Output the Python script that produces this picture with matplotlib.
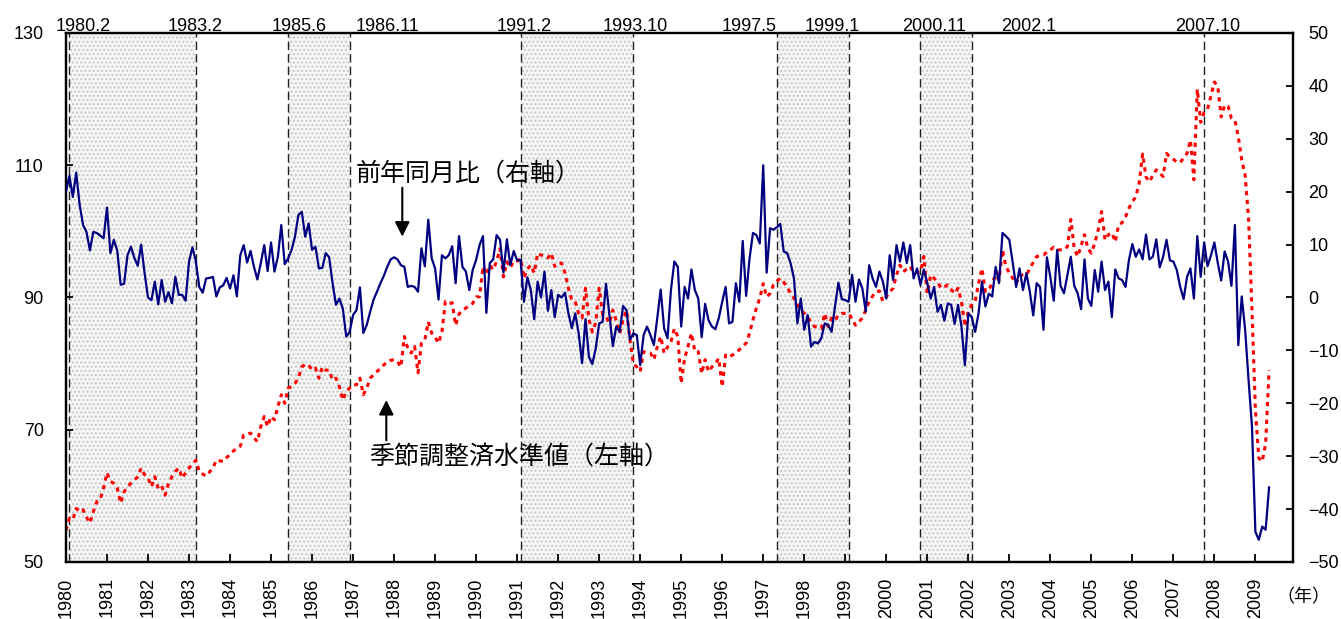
import matplotlib
matplotlib.use("Agg")
import matplotlib.pyplot as plt
import numpy as np

plt.rcParams['font.family'] = ['Liberation Sans', 'Noto Sans CJK JP', 'DejaVu Sans']

# monthly data, Jan 1980 .. May 2009
start_year = 1980

# year-on-year change (%), right axis
yoy = [
    20, 23, 19, 23.6, 17.5, 13.7, 12.4, 8.9, 12.4, 12.2, 11.7, 11.2,          # 1980
    17, 8.4, 10.9, 8.9, 2.4, 2.6, 8, 9.6, 7.5, 6, 10, 4.6,                     # 1981
    0, -0.5, 3, -1.3, 3.3, -0.8, 1, -1.1, 3.9, 0.5, 0.5, -0.6,                 # 1982
    6.8, 9.5, 6.8, 2, 0.9, 3.6, 3.7, 3.9, 0.2, 1.9, 2.3, 3.7,                  # 1983
    1.7, 4.2, 0.2, 8, 9.9, 6.6, 8.8, 5.8, 3.4, 6.5, 9.9, 5,                    # 1984
    10.4, 4.9, 7.7, 13.7, 6.3, 7.4, 9, 11.5, 15.6, 16.2, 11.5, 14,             # 1985
    9, 9.6, 5.5, 5.6, 8.4, 7.6, 2.7, -1.4, -0.2, -2.1, -7.4, -6.5,             # 1986
    -3.3, -2.4, 1.9, -6.7, -5.2, -2.7, -0.4, 1.1, 2.7, 4.1, 5.8, 7.2,          # 1987
    7.6, 7.2, 6.1, 5.8, 2, 2.2, 2, 1.1, 9.3, 5.9, 14.7, 7.4,                   # 1988
    5.5, -0.4, 8, 7.4, 8, 9.7, 2.7, 11.6, 5.8, 4.9, 1.4, 5.2,                  # 1989
    7.1, 9.9, 11.6, -2.9, 6.5, 7.2, 11.8, 10.9, 4.7, 11, 6.1, 8.8,             # 1990
    7, 7.1, -0.8, 3.8, 1.4, -4.1, 3, 0, 4.9, -2.5, 1.4, -3.7,                  # 1991
    0.5, 0, 0.9, -3, -5.8, -3, -6.8, -12.4, -4.1, -11.2, -12.6, -9.6,          # 1992
    -4.9, -4.6, 2.6, -3.3, -9.2, -5.5, -6.5, -1.6, -2.4, -8, -6.8, -7.1,       # 1993
    -12.8, -7.1, -5.5, -7.1, -9, -3.9, 1.5, -5.8, -7.7, 1.4, 6.8, 5.8,         # 1994
    -5.5, 2, -0.2, 5.3, 1.4, -0.2, -7.5, -1.2, -4.3, -5.5, -6, -3.9,           # 1995
    -0.8, 2, -4.9, -4.6, 2.7, -0.8, 10.7, 0.3, 7.4, 12.2, 11.8, 10.2,          # 1996
    25, 4.7, 13.1, 12.8, 13.3, 13.9, 8.7, 8.4, 6.5, 3.6, -4.9, -0.2,           # 1997
    -6.1, -3.3, -9.3, -8.4, -8.7, -7.7, -4.9, -5.2, -6.5, -1.7, 2.8, -0.3,     # 1998
    -0.5, -0.8, 4.3, -0.8, 3.4, 1.7, -2.7, 6.1, 3.6, 2, 4.9, 3,                # 1999
    -0.2, 8, 3.3, 9.9, 6.8, 10.4, 6.5, 9.9, 3.6, 5.5, 2.4, 5.3,                # 2000
    2.7, -0.2, 2, -2.7, -1.4, -4.4, -1.1, -1.4, -5, -1.4, -5.5, -12.8,         # 2001
    -3, -3.7, -6.5, -3, 3, -1.7, 0.7, 0.2, 5.8, 2.7, 12.2, 11.6,               # 2002
    10.9, 6.6, 2, 5.5, 1.4, 4.6, 1.1, -3.4, 2.7, 2, -6.1, 7.6,                 # 2003
    3.9, -0.6, 9, 2.2, 0.8, 4.3, 7.7, 2.2, 0.8, -2.2, 7.2, -0.2,               # 2004
    -1.6, 5.2, 1.1, 6.8, 1.4, 3, -3.7, 5.3, 3.6, 3.3, 2, 7.1,                  # 2005
    10.1, 7.7, 9.1, 7.2, 11.9, 7.2, 7.7, 11, 5.7, 7.7, 10.9, 7,                # 2006
    6.8, 5.2, 2, -0.3, 3.9, 5.5, -0.2, 11.6, 3.9, 10.4, 5.9, 8,                # 2007
    10.4, 6.5, 3.2, 8.7, 6.8, 2.2, 13.7, -9, 0.2, -6.1, -15.6, -24.4,          # 2008
    -44.3, -45.8, -43.3, -43.9, -35.9,                                         # 2009
]

# seasonally adjusted level, left axis
level = [
    54.8, 56.6, 56.4, 58.1, 57.6, 57.9, 56.8, 55.9, 57.6, 59.1, 59.4, 61.2,    # 1980
    63.5, 62.2, 61.9, 61.2, 58.9, 60.6, 61.4, 61.9, 62.4, 62.9, 64.2, 63.2,    # 1981
    62.7, 61.4, 62.9, 61.1, 61.5, 60.1, 61.9, 62.9, 63.7, 64.2, 62.7, 63.5,    # 1982
    64.2, 64.8, 65.4, 63.7, 63.3, 63, 63.6, 64.2, 65.4, 65.3, 65.2, 65.8,      # 1983
    66.2, 66.8, 67.2, 67.5, 69.2, 69.3, 69.5, 68.8, 68.2, 70.5, 72, 70.5,      # 1984
    72, 71.5, 73.5, 75.3, 74, 76.3, 76.5, 77, 77.8, 79.5, 79.9, 79.8,          # 1985
    79, 79.3, 77.8, 79.5, 79, 79, 77.5, 77.8, 76.5, 74.5, 75.8, 76.3,          # 1986
    76.8, 76.8, 77.8, 75.3, 76.3, 77.8, 78.3, 78.8, 79.3, 79.8, 80.3, 80.5,    # 1987
    80.6, 80.3, 79.5, 84.1, 82.3, 81.6, 82.6, 78.6, 83.1, 83.6, 86.3, 84.6,    # 1988
    84, 83.1, 84.8, 89.4, 89.1, 89.2, 85.8, 87.5, 88.1, 88.4, 88.8, 89.1,      # 1989
    90.1, 90.1, 94.7, 93.5, 94.9, 94.2, 95.5, 97.4, 93.1, 95.4, 94.5, 95.5,    # 1990
    95.5, 95.9, 92.9, 94.3, 94.9, 93.7, 96.7, 96.4, 96.4, 96, 96.7, 94.7,      # 1991
    95.2, 95.2, 93.7, 91.4, 89.6, 89.4, 87.6, 86.9, 91.4, 86.7, 84.8, 86.2,    # 1992
    91.4, 87.4, 87.1, 86.1, 88.1, 86.5, 84.6, 86.6, 88.1, 83.6, 80, 79.5,      # 1993
    78.8, 81.8, 81.7, 81.6, 80.6, 82.5, 84.1, 81.6, 82.5, 83.3, 85.3, 84.1,    # 1994
    77, 80.8, 82.6, 84.6, 81.8, 81.8, 78.5, 80.6, 78.8, 79.5, 80, 80.8,        # 1995
    76.5, 81.3, 81, 81.3, 81.6, 82.1, 82.6, 83.1, 84.6, 86.6, 88.4, 89.9,      # 1996
    92.1, 90.1, 90.6, 91.9, 92.5, 92.9, 92.3, 91.6, 90.6, 89.9, 88.9, 88.1,    # 1997
    87.6, 87, 86.3, 85.6, 85.5, 85.3, 87.6, 85.6, 86.9, 86.5, 87.4, 87.6,      # 1998
    87.6, 87.6, 86.8, 85.8, 86.3, 86.9, 88.1, 89.4, 90.2, 90.9, 91, 89.4,      # 1999
    90.1, 90.8, 91.4, 93.4, 94.9, 93.9, 94.3, 94.7, 93.7, 93.8, 93.9, 96.2,    # 2000
    90.6, 93.4, 92.9, 92.4, 91.4, 91.6, 91.9, 91.2, 90.6, 91.4, 89.4, 85.6,    # 2001
    87.9, 88.9, 89.4, 92.1, 94.4, 90.9, 91.1, 92.2, 93.4, 92.6, 97.2, 94.7,    # 2002
    93.7, 92.9, 92.1, 93.4, 93.4, 93.4, 94.4, 95.3, 96.2, 96.3, 96.4, 96.9,    # 2003
    97.2, 97.6, 97.2, 97.2, 97.2, 97.7, 101.8, 97.4, 96.2, 97.8, 99.5, 97.4,   # 2004
    96.7, 98.2, 100.2, 103, 98.7, 99.5, 99.8, 98.4, 101, 101.3, 102.2, 103.5,  # 2005
    104.5, 105.2, 107.3, 111.7, 108.2, 107.5, 108.5, 109.3, 108.8, 108.3, 111.8, 111.2,  # 2006
    110.9, 110.5, 110.4, 111.1, 111.8, 113.8, 107.8, 121.5, 116.5, 118, 118.5, 120.5,    # 2007
    122.6, 121.9, 117.3, 119.1, 118.9, 117.1, 116.8, 114.3, 110.8, 108.5, 102, 88.1,     # 2008
    73, 65.7, 65.2, 67.9, 79,                                                  # 2009
]

# recession periods (peak, trough) as "year.month"
peaks = ["1980.2", "1985.6", "1991.2", "1997.5", "2000.11"]
troughs = ["1983.2", "1986.11", "1993.10", "1999.1", "2002.1"]
last_peak = "2007.10"

years = list(range(1980, 2010))


def to_x(s, end=False):
    y, m = s.split(".")
    return int(y) + (int(m) - (0 if end else 1)) / 12.0


x = start_year + np.arange(len(yoy)) / 12.0

fig = plt.figure(figsize=(13.41, 6.19), dpi=100)
ax = fig.add_axes([0.0492, 0.0921, 0.9150, 0.8546])
ax2 = ax.twinx()

ax.set_xlim(1980, 2009 + 11 / 12)
ax.set_ylim(50, 130)
ax2.set_ylim(-50, 50)

# shaded recessions and dashed lines
for p, t in zip(peaks, troughs):
    ax.axvspan(to_x(p), to_x(t, end=True), facecolor='#f6f6f6', edgecolor='#c8c8c8',
               hatch='....', lw=0, zorder=0)
lines = [to_x(p) for p in peaks] + [to_x(t, end=True) for t in troughs] + [to_x(last_peak)]
for xv in lines:
    ax.axvline(xv, color='#222222', lw=1.0, dashes=(6, 3), zorder=1)

# top labels (positions placed by hand like the original)
label_x = {"1980.2": 1980.414, "1983.2": 1983.154, "1985.6": 1985.675, "1986.11": 1987.842,
           "1991.2": 1991.167, "1993.10": 1993.882, "1997.5": 1996.659, "1999.1": 1998.692,
           "2000.11": 2001.164, "2002.1": 2003.478, "2007.10": 2007.825}
for lab, xv in label_x.items():
    ax.text(xv, 1.004, lab, transform=ax.get_xaxis_transform(), ha='center', va='baseline',
            fontsize=13)

ax.plot(x, level, color='#ff0000', lw=2.2, linestyle=(0, (1.4, 1.5)), zorder=3)
ax2.plot(x, yoy, color='#000080', lw=1.6, zorder=3)

ax.set_xticks(years)
ax.set_xticklabels([str(v) for v in years], rotation=90, fontsize=13)
ax.set_yticks(np.arange(50, 131, 20))
ax2.set_yticks(np.arange(-50, 51, 10))
ax2.set_yticklabels([str(v).replace('-', '\u2212') for v in range(-50, 51, 10)])

ax.tick_params(axis='x', direction='in', length=6, width=1.3, pad=11)
ax.tick_params(axis='y', direction='in', length=5, width=1.3, pad=16, labelsize=13)
ax2.tick_params(axis='y', direction='in', length=5, width=1.3, pad=11, labelsize=13)

for a in (ax, ax2):
    for s in a.spines.values():
        s.set_linewidth(1.6)

# annotations
jp = ['Noto Sans CJK JP', 'DejaVu Sans']
arrow = dict(arrowstyle='-|>', color='black', lw=1.5, mutation_scale=22, shrinkA=0, shrinkB=0)
ax.annotate('', xy=(1988.2, 99.2), xytext=(1988.2, 106.6), arrowprops=arrow)
ax.text(1989.81, 108.7, '前年同月比（右軸）', ha='center', va='center', fontsize=18, family=jp)
ax.annotate('', xy=(1987.81, 74.5), xytext=(1987.81, 68.4), arrowprops=arrow)
ax.text(1991.06, 65.9, '季節調整済水準値（左軸）', ha='center', va='center', fontsize=18, family=jp)

fig.text(0.9717, 0.035, '（年）', ha='center', va='center', fontsize=13, family=jp)

fig.savefig('out.png', dpi=100)
